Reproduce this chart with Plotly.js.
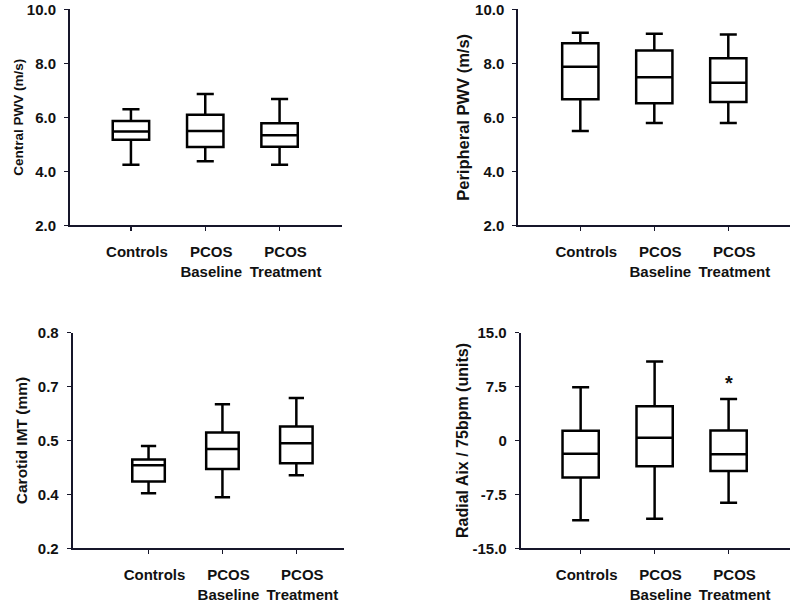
<!DOCTYPE html>
<html>
<head>
<meta charset="utf-8">
<script src="https://cdn.plot.ly/plotly-3.0.1.min.js"></script>
<style>html,body{margin:0;padding:0;background:#fff;}#chart{width:800px;height:606px;}</style>
</head>
<body>
<div id="chart"></div>
<script>
// Categories (x-axis labels)
const categories = ['Controls', 'PCOS<br>Baseline', 'PCOS<br>Treatment'];

// Panel A: Central PWV (m/s)
const centralLower  = [4.24, 4.37, 4.24];
const centralQ1     = [5.17, 4.90, 4.91];
const centralMedian = [5.47, 5.49, 5.34];
const centralQ3     = [5.86, 6.09, 5.78];
const centralUpper  = [6.30, 6.86, 6.68];

// Panel B: Peripheral PWV (m/s)
const periphLower  = [5.49, 5.79, 5.79];
const periphQ1     = [6.67, 6.52, 6.57];
const periphMedian = [7.87, 7.48, 7.28];
const periphQ3     = [8.74, 8.47, 8.19];
const periphUpper  = [9.13, 9.09, 9.07];

// Panel C: Carotid IMT (mm)
const imtLower  = [0.353, 0.342, 0.403];
const imtQ1     = [0.386, 0.421, 0.437];
const imtMedian = [0.431, 0.476, 0.492];
const imtQ3     = [0.447, 0.522, 0.539];
const imtUpper  = [0.485, 0.601, 0.618];

// Panel D: Radial AIx / 75bpm (units)
const aixLower  = [-11.1, -10.9, -8.66];
const aixQ1     = [-5.14, -3.60, -4.26];
const aixMedian = [-1.85, 0.37, -1.90];
const aixQ3     = [1.35, 4.76, 1.39];
const aixUpper  = [7.40, 11.0, 5.79];

// Significance marker (panel D)
const sigCategory = categories[2];
const sigValue = 8.3;
const sigText = '*';

// Y tick labels
const centralTicks = [2, 4, 6, 8, 10];
const centralTickText = ['2.0', '4.0', '6.0', '8.0', '10.0'];
const periphTicks = [2, 4, 6, 8, 10];
const periphTickText = ['2.0', '4.0', '6.0', '8.0', '10.0'];
const imtTicks = [0.2, 0.35, 0.5, 0.65, 0.8];
const imtTickText = ['0.2', '0.4', '0.5', '0.7', '0.8'];
const aixTicks = [-15, -7.5, 0, 7.5, 15];
const aixTickText = ['-15.0', '-7.5', '0', '7.5', '15.0'];

const FONT = 'Liberation Sans, Arial, Helvetica, sans-serif';
const AXC = '#16162a';

function boxTrace(lo, q1, med, q3, up, xa, ya, w) {
  return {
    type: 'box', x: categories, lowerfence: lo, q1: q1, median: med, q3: q3, upperfence: up,
    xaxis: xa, yaxis: ya, boxpoints: false, fillcolor: '#ffffff',
    line: {color: '#000000', width: 2.5}, width: w, whiskerwidth: 0.47,
    showlegend: false, hoverinfo: 'skip'
  };
}

const data = [
  boxTrace(centralLower, centralQ1, centralMedian, centralQ3, centralUpper, 'x', 'y', 0.49),
  boxTrace(periphLower, periphQ1, periphMedian, periphQ3, periphUpper, 'x2', 'y2', 0.49),
  boxTrace(imtLower, imtQ1, imtMedian, imtQ3, imtUpper, 'x3', 'y3', 0.44),
  boxTrace(aixLower, aixQ1, aixMedian, aixQ3, aixUpper, 'x4', 'y4', 0.49)
];

function xAxis(domain, range, anchor) {
  return {
    domain: domain, range: range, anchor: anchor, type: 'category',
    showline: true, linecolor: AXC, linewidth: 2, showgrid: false, zeroline: false,
    ticks: 'outside', ticklen: 4, tickwidth: 1.5, tickcolor: AXC,
    ticklabelshift: 6, ticklabelstandoff: 8,
    tickfont: {family: FONT, size: 15, color: '#111', weight: 'bold'}
  };
}
function yAxis(domain, range, anchor, tv, tt, title, tsize, standoff) {
  return {
    domain: domain, range: range, anchor: anchor,
    showline: true, linecolor: AXC, linewidth: 2, showgrid: false, zeroline: false,
    ticks: 'outside', ticklen: 4, tickwidth: 1.5, tickcolor: AXC,
    tickvals: tv, ticktext: tt, ticklabelstandoff: 5,
    tickfont: {family: FONT, size: 15, color: '#111', weight: 'bold'},
    title: {text: title, standoff: standoff, font: {family: FONT, size: tsize, color: '#111', weight: 'bold'}}
  };
}

const layout = {
  width: 800, height: 606,
  margin: {l: 0, r: 0, t: 0, b: 0},
  paper_bgcolor: '#ffffff', plot_bgcolor: '#ffffff',
  showlegend: false,
  xaxis:  xAxis([0.0875, 0.4275], [-0.82, 2.84], 'y'),
  xaxis2: xAxis([0.6479, 0.9875], [-0.838, 2.834], 'y2'),
  xaxis3: xAxis([0.0909, 0.43], [-1.026, 2.645], 'y3'),
  xaxis4: xAxis([0.6509, 0.9875], [-0.81, 2.83], 'y4'),
  yaxis:  yAxis([0.6282, 0.98465], [2, 10], 'x', centralTicks, centralTickText, 'Central PWV (m/s)', 13.5, 0),
  yaxis2: yAxis([0.6282, 0.98465], [2, 10], 'x2', periphTicks, periphTickText, 'Peripheral PWV (m/s)', 16.5, 1),
  yaxis3: yAxis([0.0952, 0.451], [0.2, 0.8], 'x3', imtTicks, imtTickText, 'Carotid IMT (mm)', 15.5, 6),
  yaxis4: yAxis([0.0952, 0.451], [-15, 15], 'x4', aixTicks, aixTickText, 'Radial Aix / 75bpm (units)', 16, 0),
  annotations: [{
    xref: 'x4', yref: 'y4', x: sigCategory, y: sigValue, text: sigText, showarrow: false,
    font: {family: FONT, size: 20, color: '#111', weight: 'bold'}, yshift: -2
  }]
};

Plotly.newPlot('chart', data, layout, {staticPlot: true, displayModeBar: false});
</script>
</body>
</html>
